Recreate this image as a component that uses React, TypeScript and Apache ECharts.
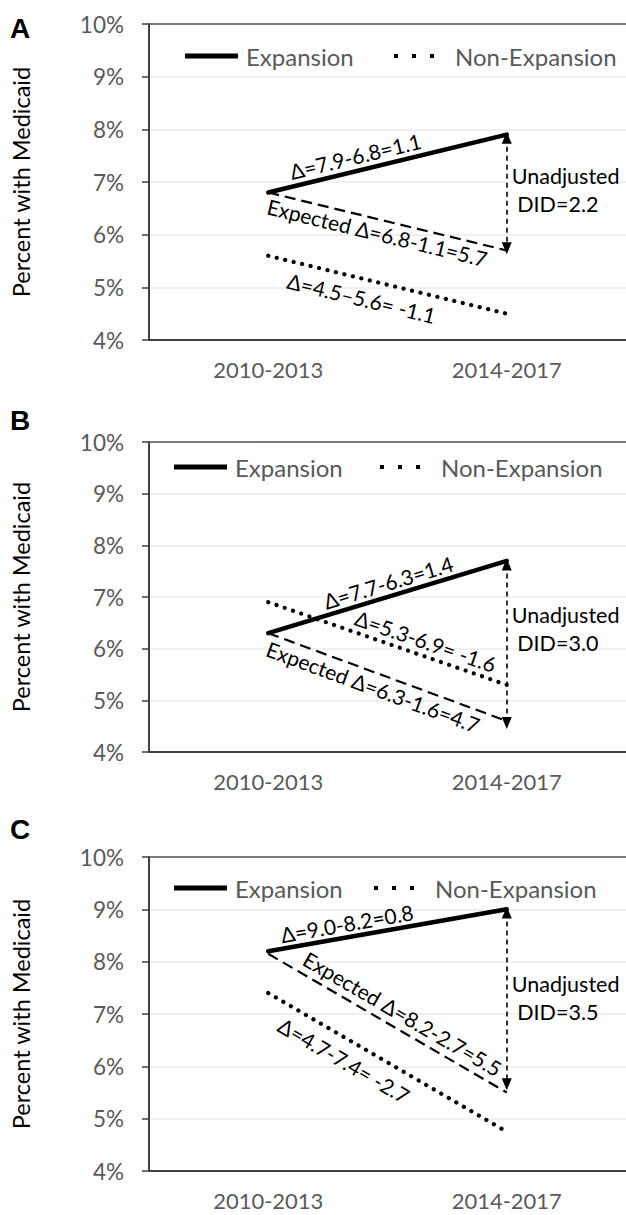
import React, { useEffect, useRef } from "react";
import * as echarts from "echarts";

// ---------- data ----------
const periods = ["2010-2013", "2014-2017"];
const panelLetters = ["A", "B", "C"];
const yMin = 4;
const yMax = 10;
const yStep = 1;

const expansion = [
  [6.8, 7.9],
  [6.3, 7.7],
  [8.2, 9.0],
];
const nonExpansion = [
  [5.6, 4.5],
  [6.9, 5.3],
  [7.4, 4.75],
];
const expected = [
  [6.8, 5.7],
  [6.3, 4.6],
  [8.15, 5.5],
];
// DID arrow: [top, bottom] (arrowhead centres)
const didArrow = [
  [7.84, 5.74],
  [7.63, 4.56],
  [8.94, 5.66],
];

const expansionText = ["Δ=7.9-6.8=1.1", "Δ=7.7-6.3=1.4", "Δ=9.0-8.2=0.8"];
const nonExpansionText = ["Δ=4.5–5.6= -1.1", "Δ=5.3-6.9= -1.6", "Δ=4.7-7.4= -2.7"];
const expectedText = ["Expected Δ=6.8-1.1=5.7", "Expected Δ=6.3-1.6=4.7", "Expected Δ=8.2-2.7=5.5"];
const didText = ["DID=2.2", "DID=3.0", "DID=3.5"];

// ---------- layout / style ----------
const FONT = 'Lato, "DejaVu Sans", sans-serif';
const GRID_LEFT = 149;
const GRID_WIDTH = 480;
const gridTops = [24, 442, 857];
const gridHeights = [316, 310, 314];
const legendRows = [
  { y: 56, exp: 185, non: 394 },
  { y: 467, exp: 174, non: 380 },
  { y: 888, exp: 174, non: 374 },
];
const letterY = [28, 420, 829];
// [t along line, perpendicular offset (+ = below)]
const expPlace = [
  [0.38, -15],
  [0.52, -14],
  [0.34, -14],
];
const nonPlace = [
  [0.41, 19],
  [0.64, -15],
  [0.36, 20],
];
const expdPlace = [
  [0.47, 13],
  [0.46, 14],
  [0.53, -16],
];
const didDy = [-3, -15, 0];

const AXIS_DARK = "#404040";
const TICK_GREY = "#595959";

function lineLabel(text: string, p0: number[], p1: number[], t: number, off: number) {
  const dx = p1[0] - p0[0];
  const dy = p1[1] - p0[1];
  const len = Math.hypot(dx, dy);
  const nx = -dy / len;
  const ny = dx / len;
  return {
    type: "text",
    x: p0[0] + t * dx + off * nx,
    y: p0[1] + t * dy + off * ny,
    rotation: -Math.atan2(dy, dx),
    silent: true,
    z: 10,
    style: {
      text,
      fill: "#000",
      fontSize: 21,
      fontFamily: FONT,
      align: "center",
      verticalAlign: "middle",
    },
  };
}

export default function App() {
  const ref = useRef<HTMLDivElement>(null);

  useEffect(() => {
    if (!ref.current) return;
    const chart = echarts.init(ref.current, undefined, { renderer: "svg" });

    const grid: any[] = [];
    const xAxis: any[] = [];
    const yAxis: any[] = [];
    const series: any[] = [];
    const legend: any[] = [];

    for (let i = 0; i < 3; i++) {
      grid.push({ left: GRID_LEFT, top: gridTops[i], width: GRID_WIDTH, height: gridHeights[i] });
      xAxis.push({
        type: "category",
        gridIndex: i,
        data: periods,
        position: "bottom",
        boundaryGap: true,
        axisLine: { lineStyle: { color: AXIS_DARK, width: 2 } },
        axisTick: { alignWithLabel: true, length: 6, lineStyle: { color: AXIS_DARK, width: 1.5 } },
        axisLabel: { color: TICK_GREY, fontSize: 22, fontFamily: FONT, margin: 18 },
        splitLine: { show: false },
      });
      xAxis.push({
        type: "category",
        gridIndex: i,
        data: periods,
        position: "top",
        boundaryGap: true,
        axisLine: { lineStyle: { color: "#555", width: 1.5 } },
        axisTick: { show: false },
        axisLabel: { show: false },
        splitLine: { show: false },
      });
      yAxis.push({
        type: "value",
        gridIndex: i,
        min: yMin,
        max: yMax,
        interval: yStep,
        name: "Percent with Medicaid",
        nameLocation: "middle",
        nameGap: 116,
        nameTextStyle: { color: "#000", fontSize: 23.5, fontFamily: FONT },
        axisLine: { show: true, lineStyle: { color: AXIS_DARK, width: 2 } },
        axisTick: { show: true, length: 7, lineStyle: { color: AXIS_DARK, width: 1.5 } },
        axisLabel: { color: TICK_GREY, fontSize: 22.5, fontFamily: FONT, margin: 25, formatter: "{value}%" },
        splitLine: { lineStyle: { color: "#ebebeb", width: 1.5 } },
      });

      series.push({
        name: "Expansion",
        type: "line",
        xAxisIndex: 2 * i,
        yAxisIndex: i,
        data: expansion[i],
        symbol: "none",
        itemStyle: { color: "#000" },
        lineStyle: { color: "#000", width: 4.5, cap: "round" },
        z: 4,
      });
      series.push({
        name: "Non-Expansion",
        type: "line",
        xAxisIndex: 2 * i,
        yAxisIndex: i,
        data: nonExpansion[i],
        symbol: "none",
        itemStyle: { color: "#000" },
        lineStyle: { color: "#000", width: 4.2, type: [0.1, 8.6], cap: "round" },
        z: 3,
      });
      series.push({
        name: "Expected",
        type: "line",
        xAxisIndex: 2 * i,
        yAxisIndex: i,
        data: expected[i],
        symbol: "none",
        itemStyle: { color: "#000" },
        lineStyle: { color: "#000", width: 2.2, type: [11, 6] },
        z: 3,
        markLine: {
          silent: true,
          symbol: ["triangle", "triangle"],
          symbolSize: [10, 12],
          label: { show: false },
          lineStyle: { color: "#000", width: 1.6, type: [5, 4] },
          data: [
            [
              { coord: [periods[1], didArrow[i][0]] },
              { coord: [periods[1], didArrow[i][1]] },
            ],
          ],
        },
      });

      const lr = legendRows[i];
      legend.push({
        data: ["Expansion"],
        left: lr.exp,
        top: lr.y - 13,
        padding: 0,
        icon: "rect",
        itemWidth: 53,
        itemHeight: 5,
        selectedMode: false,
        textStyle: { color: TICK_GREY, fontSize: 24, fontFamily: FONT, lineHeight: 26, padding: [0, 0, 0, 3] },
      });
      legend.push({
        data: ["Non-Expansion"],
        left: lr.non,
        top: lr.y - 13,
        padding: 0,
        icon: "path://M0,0h4v4h-4z M18,0h4v4h-4z M36,0h4v4h-4z",
        itemWidth: 40,
        itemHeight: 4,
        selectedMode: false,
        textStyle: { color: TICK_GREY, fontSize: 24, fontFamily: FONT, lineHeight: 26, padding: [0, 0, 0, 16] },
      });
    }

    chart.setOption({ animation: false, grid, xAxis, yAxis, series, legend });

    const graphic: any[] = [];
    for (let i = 0; i < 3; i++) {
      const px = (x: number, y: number) =>
        chart.convertToPixel({ xAxisIndex: 2 * i, yAxisIndex: i } as any, [x, y]) as number[];
      const e0 = px(0, expansion[i][0]);
      const e1 = px(1, expansion[i][1]);
      const n0 = px(0, nonExpansion[i][0]);
      const n1 = px(1, nonExpansion[i][1]);
      const x0 = px(0, expected[i][0]);
      const x1 = px(1, expected[i][1]);
      graphic.push(lineLabel(expansionText[i], e0, e1, expPlace[i][0], expPlace[i][1]));
      graphic.push(lineLabel(nonExpansionText[i], n0, n1, nonPlace[i][0], nonPlace[i][1]));
      graphic.push(lineLabel(expectedText[i], x0, x1, expdPlace[i][0], expdPlace[i][1]));
      const d = px(1, (didArrow[i][0] + didArrow[i][1]) / 2);
      graphic.push({
        type: "text",
        x: d[0] + 5,
        y: d[1] + didDy[i],
        silent: true,
        style: {
          text: "Unadjusted\n " + didText[i],
          fill: "#000",
          fontSize: 21.5,
          lineHeight: 28,
          fontFamily: FONT,
          align: "left",
          verticalAlign: "middle",
        },
      });
      graphic.push({
        type: "text",
        x: 10,
        y: letterY[i],
        silent: true,
        style: {
          text: panelLetters[i],
          fill: "#000",
          fontSize: 28,
          fontWeight: "bold",
          fontFamily: '"Liberation Sans", Arial, sans-serif',
          align: "left",
          verticalAlign: "middle",
        },
      });
    }
    chart.setOption({ graphic });

    return () => chart.dispose();
  }, []);

  return (
    <div
      ref={ref}
      style={{ position: "absolute", left: 0, top: 0, width: 626, height: 1215, background: "#fff" }}
    />
  );
}
